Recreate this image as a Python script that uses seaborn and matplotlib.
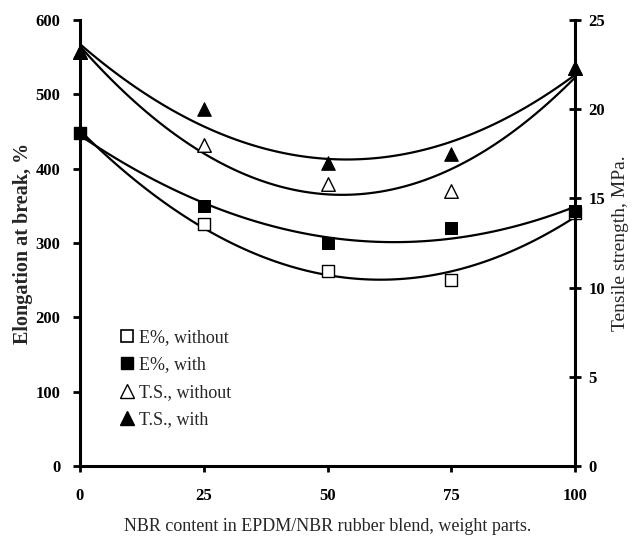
import matplotlib
matplotlib.use("Agg")
import matplotlib.pyplot as plt
import seaborn as sns
import pandas as pd
from matplotlib.lines import Line2D

# data
nbr = [0, 25, 50, 75, 100]
e_without = [448, 325, 262, 250, 340]
e_with = [448, 350, 300, 320, 343]
ts_without = [23.2, 18.0, 15.8, 15.4, 22.3]
ts_with = [23.2, 20.0, 17.0, 17.5, 22.3]
labels = ["E%, without", "E%, with", "T.S., without", "T.S., with"]
xticks = [0, 25, 50, 75, 100]
yticks_left = [0, 100, 200, 300, 400, 500, 600]
yticks_right = [0, 5, 10, 15, 20, 25]

df = pd.DataFrame({"x": nbr, "ew": e_without, "ewt": e_with,
                   "tw": ts_without, "twt": ts_with})

sns.set_style("ticks")
plt.rcParams["font.family"] = ["Liberation Serif", "DejaVu Serif"]

fig = plt.figure(figsize=(6.33, 5.38), dpi=100)
ax = fig.add_axes([80/633, 1-466/538, (575-80)/633, (466-20)/538])
ax2 = ax.twinx()

line_kw = dict(color="black", lw=1.6)
for col, a in [("ew", ax), ("ewt", ax), ("tw", ax2), ("twt", ax2)]:
    sns.regplot(data=df, x="x", y=col, order=2, ci=None, scatter=False,
                truncate=True, line_kws=line_kw, ax=a)

sq = 80
tri = 95
sns.scatterplot(data=df, x="x", y="ew", marker="s", s=sq, facecolor="white",
                edgecolor="black", linewidth=1.0, ax=ax, zorder=5, clip_on=False)
sns.scatterplot(data=df, x="x", y="ewt", marker="s", s=sq, color="black",
                edgecolor="black", ax=ax, zorder=6, clip_on=False)
sns.scatterplot(data=df, x="x", y="tw", marker="^", s=tri, facecolor="white",
                edgecolor="black", linewidth=1.0, ax=ax2, zorder=5, clip_on=False)
sns.scatterplot(data=df, x="x", y="twt", marker="^", s=tri, color="black",
                edgecolor="black", ax=ax2, zorder=6, clip_on=False)

ax.set_xlim(0, 100)
ax.set_ylim(0, 600)
ax2.set_ylim(0, 25)
ax.set_xticks(xticks)
ax.set_yticks(yticks_left)
ax2.set_yticks(yticks_right)

ax.spines["top"].set_visible(False)
ax2.spines["top"].set_visible(False)
ax.spines["right"].set_visible(False)
for sp in ["left", "bottom"]:
    ax.spines[sp].set_linewidth(2.2)
    ax.spines[sp].set_color("black")
ax2.spines["left"].set_visible(False)
ax2.spines["bottom"].set_visible(False)
ax2.spines["right"].set_visible(True)
ax2.spines["right"].set_linewidth(2.2)
ax2.spines["right"].set_color("black")

ax.tick_params(axis="x", direction="out", length=4, width=2, colors="black",
               labelsize=12, pad=12)
ax.tick_params(axis="y", direction="out", length=5, width=2, colors="black",
               labelsize=12, pad=9)
ax2.tick_params(axis="y", direction="inout", length=9, width=2, colors="black",
                labelsize=12, pad=5)
for lab in ax.get_xticklabels() + ax.get_yticklabels() + ax2.get_yticklabels():
    lab.set_fontweight("bold")

ax.set_xlabel("NBR content in EPDM/NBR rubber blend, weight parts.", fontsize=13,
              labelpad=10)
ax.set_ylabel("Elongation at break, %", fontsize=14.5, fontweight="bold",
              labelpad=2)
ax2.set_ylabel("Tensile strength, MPa.", fontsize=14, labelpad=5)
ax2.yaxis.set_label_position("right")

handles = [
    Line2D([], [], marker="s", ls="none", markersize=8.5, markerfacecolor="white",
           markeredgecolor="black", markeredgewidth=1.2),
    Line2D([], [], marker="s", ls="none", markersize=8.5, markerfacecolor="black",
           markeredgecolor="black"),
    Line2D([], [], marker="^", ls="none", markersize=10, markerfacecolor="white",
           markeredgecolor="black", markeredgewidth=1.0),
    Line2D([], [], marker="^", ls="none", markersize=10, markerfacecolor="black",
           markeredgecolor="black"),
]
ax2.legend(handles, labels, loc="lower left", bbox_to_anchor=(0.063, 0.064),
           frameon=False, fontsize=13, handletextpad=0.25, labelspacing=0.58,
           handlelength=0.8, borderpad=0)

fig.savefig("out.png", dpi=100)
